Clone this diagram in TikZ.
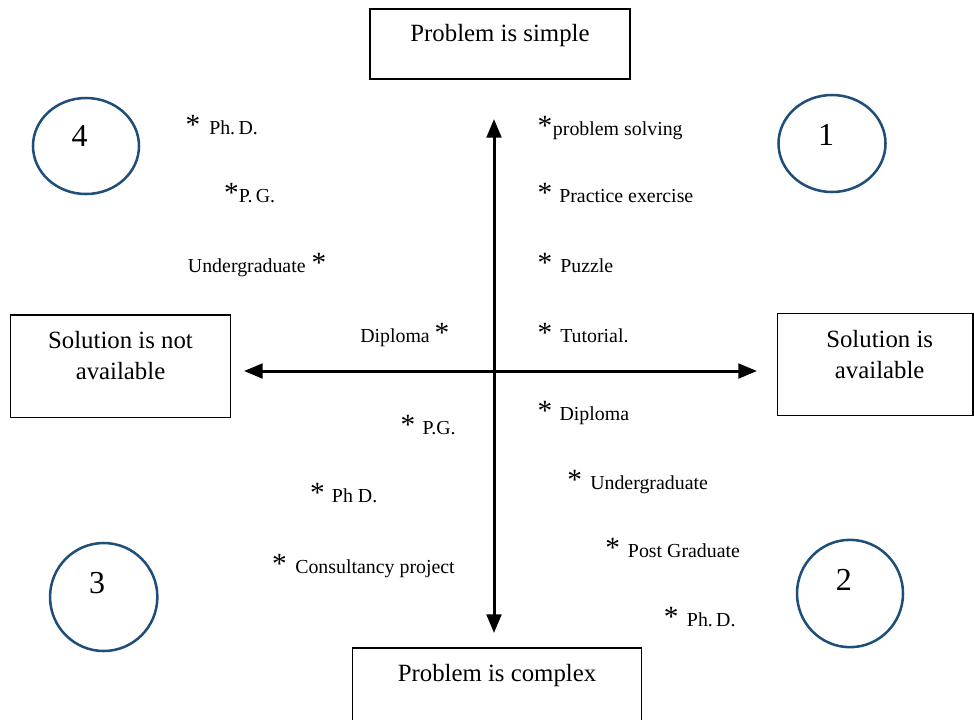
\documentclass[tikz,border=0pt]{standalone}
\usepackage{fontspec}
\setmainfont{Liberation Serif}
\usetikzlibrary{arrows.meta,shapes.geometric}
\definecolor{circblue}{HTML}{1F4E79}
\begin{document}
\begin{tikzpicture}[x=0.75pt,y=-0.75pt,
  frame/.style={draw, line width=1.1pt, inner sep=0pt, rectangle},
  boxtxt/.style={inner sep=0pt, align=center, font=\fontsize{18.6}{23.25}\selectfont},
  circ/.style={draw=circblue, line width=1.9pt, ellipse, inner sep=0pt},
  numtxt/.style={inner sep=0pt, anchor=base, font=\fontsize{24}{28}\selectfont},
  lbl/.style={inner sep=0pt, anchor=base west, font=\fontsize{14.9}{18}\selectfont},
  astk/.style={inner sep=0pt, anchor=base, font=\fontsize{22}{22}\selectfont},
  axis/.style={line width=2.25pt, {Triangle[length=14pt,width=11pt]}-{Triangle[length=14pt,width=11pt]}}
]
\useasboundingbox (0,0) rectangle (974,719);
\clip (0,0) rectangle (974,719);

% boxes
\node[frame, minimum width=195pt, minimum height=52.5pt] (top) at (500,44) {};
\node[boxtxt, anchor=base] (toptxt) at (500,41.5) {Problem is simple};
\node[frame, minimum width=216.75pt, minimum height=55.5pt] (bot) at (497.2,685) {};
\node[boxtxt, anchor=base] (bottxt) at (497,681) {Problem is complex};
\node[frame, minimum width=165pt, minimum height=76.7pt] (left) at (120.7,366.2) {};
\node[boxtxt, anchor=north] (lefttxt) at (120.5,331) {Solution is not\\available};
\node[frame, minimum width=146.8pt, minimum height=76.8pt] (right) at (875.2,364.5) {};
\node[boxtxt, anchor=north] (righttxt) at (879.7,330) {Solution is\\available};

% axes
\coordinate (hl) at (244,371);
\coordinate (hr) at (757,371);
\coordinate (vt) at (494,119);
\coordinate (vb) at (494,633);
\draw[axis] (hl) -- (hr);
\draw[axis] (vb) -- (vt);

% circles
\node[circ, minimum width=79.5pt, minimum height=72pt] (c4) at (86,146) {};
\node[numtxt] (n4) at (79.7,146.7) {4};
\node[circ, minimum width=80.25pt, minimum height=72.75pt] (c1) at (832,143.5) {};
\node[numtxt] (n1) at (826,145) {1};
\node[circ, minimum width=80.5pt, minimum height=81pt] (c3) at (103.7,597) {};
\node[numtxt] (n3) at (97,593.3) {3};
\node[circ, minimum width=79.5pt, minimum height=80.5pt] (c2) at (850,593.5) {};
\node[numtxt] (n2) at (843.8,590.7) {2};

% quadrant 4 labels
\node[astk] (a1) at (193,134) {*};
\node[lbl] (t1) at (209,134) {Ph.\,D.};
\node[astk] (a2) at (231.5,202.5) {*};
\node[lbl] (t2) at (238.5,202.5) {P.\,G.};
\node[lbl] (t3) at (187.7,272.5) {Undergraduate};
\node[astk] (a3) at (319,272.5) {*};
\node[lbl] (t4) at (360,342) {Diploma};
\node[astk] (a4) at (442,342) {*};

% quadrant 1 labels
\node[astk] (a5) at (545,135) {*};
\node[lbl] (t5) at (552.7,135) {problem solving};
\node[astk] (a6) at (545,202.5) {*};
\node[lbl] (t6) at (559,202.5) {Practice exercise};
\node[astk] (a7) at (545,272) {*};
\node[lbl] (t7) at (560,272) {Puzzle};
\node[astk] (a8) at (545,342) {*};
\node[lbl] (t8) at (560,342) {Tutorial.};

% quadrant 2 labels
\node[astk] (a9) at (545,420) {*};
\node[lbl] (t9) at (559.3,420) {Diploma};
\node[astk] (a10) at (574.7,489.5) {*};
\node[lbl] (t10) at (590,489.5) {Undergraduate};
\node[astk] (a11) at (612.8,557.5) {*};
\node[lbl] (t11) at (627.7,557.5) {Post Graduate};
\node[astk] (a12) at (671.3,626.5) {*};
\node[lbl] (t12) at (686.7,626.5) {Ph.\,D.};

% quadrant 3 labels
\node[astk] (a13) at (408,434) {*};
\node[lbl] (t13) at (422.3,434) {P.G.};
\node[astk] (a14) at (317.5,502.5) {*};
\node[lbl] (t14) at (331.7,502.5) {Ph D.};
\node[astk] (a15) at (279.5,573.5) {*};
\node[lbl] (t15) at (295,573.5) {Consultancy project};
\end{tikzpicture}
\end{document}
